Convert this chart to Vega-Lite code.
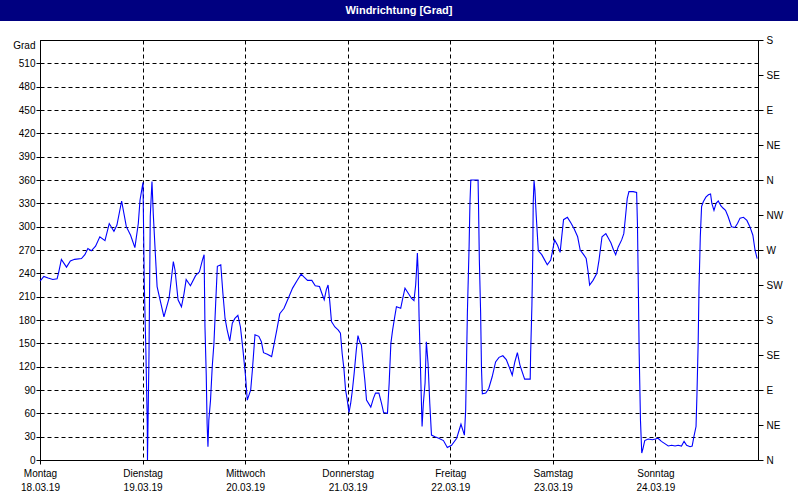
{
  "$schema": "https://vega.github.io/schema/vega-lite/v6.json",
  "padding": 0,
  "background": "white",
  "spacing": 19,
  "bounds": "flush",
  "center": true,
  "config": {
    "font": "Liberation Sans",
    "view": {"stroke": "black", "strokeWidth": 1},
    "axis": {
      "labelFont": "Liberation Sans",
      "labelFontSize": 10,
      "labelColor": "black",
      "tickColor": "black",
      "domainColor": "black",
      "gridColor": "black",
      "gridOpacity": 1,
      "gridDash": [4, 3],
      "gridWidth": 1,
      "labelFlush": false,
      "labelOverlap": false,
      "labelBound": false
    }
  },
  "datasets": {
    "wind": [
      {"stunde": 0, "grad": 230}, {"stunde": 0.9, "grad": 236}, {"stunde": 1.9, "grad": 234}, {"stunde": 3.0, "grad": 232},
      {"stunde": 4.0, "grad": 233}, {"stunde": 4.4, "grad": 242}, {"stunde": 5.0, "grad": 258}, {"stunde": 6.2, "grad": 248},
      {"stunde": 7.1, "grad": 256}, {"stunde": 8.1, "grad": 258}, {"stunde": 9.7, "grad": 259}, {"stunde": 10.5, "grad": 264},
      {"stunde": 11.2, "grad": 272}, {"stunde": 12.0, "grad": 269}, {"stunde": 13.0, "grad": 275}, {"stunde": 14.0, "grad": 287},
      {"stunde": 15.2, "grad": 282}, {"stunde": 16.2, "grad": 304}, {"stunde": 17.3, "grad": 294}, {"stunde": 18.0, "grad": 302},
      {"stunde": 19.1, "grad": 333}, {"stunde": 20.2, "grad": 300}, {"stunde": 21.2, "grad": 289}, {"stunde": 22.2, "grad": 273},
      {"stunde": 23.0, "grad": 304}, {"stunde": 23.4, "grad": 334}, {"stunde": 24.1, "grad": 357}, {"stunde": 24.4, "grad": 227},
      {"stunde": 24.8, "grad": 133}, {"stunde": 25.1, "grad": 45}, {"stunde": 25.15, "grad": 0}, {"stunde": 25.5, "grad": 135},
      {"stunde": 25.8, "grad": 313}, {"stunde": 26.2, "grad": 358}, {"stunde": 26.5, "grad": 317}, {"stunde": 27.0, "grad": 264},
      {"stunde": 27.4, "grad": 223}, {"stunde": 28.0, "grad": 208}, {"stunde": 29.0, "grad": 184}, {"stunde": 30.2, "grad": 208},
      {"stunde": 30.8, "grad": 236}, {"stunde": 31.2, "grad": 255}, {"stunde": 31.6, "grad": 244}, {"stunde": 32.3, "grad": 206},
      {"stunde": 33.1, "grad": 197}, {"stunde": 33.7, "grad": 214}, {"stunde": 34.2, "grad": 232}, {"stunde": 35.2, "grad": 224},
      {"stunde": 36.4, "grad": 237}, {"stunde": 37.3, "grad": 242}, {"stunde": 38.0, "grad": 257}, {"stunde": 38.4, "grad": 264},
      {"stunde": 38.6, "grad": 171}, {"stunde": 38.9, "grad": 109}, {"stunde": 39.1, "grad": 47}, {"stunde": 39.3, "grad": 17},
      {"stunde": 39.5, "grad": 51}, {"stunde": 39.9, "grad": 77}, {"stunde": 40.3, "grad": 120}, {"stunde": 40.7, "grad": 150},
      {"stunde": 41.1, "grad": 201}, {"stunde": 41.5, "grad": 249}, {"stunde": 42.3, "grad": 251}, {"stunde": 42.8, "grad": 214},
      {"stunde": 43.3, "grad": 182}, {"stunde": 43.8, "grad": 167}, {"stunde": 44.4, "grad": 153}, {"stunde": 45.0, "grad": 176},
      {"stunde": 45.6, "grad": 182}, {"stunde": 46.3, "grad": 186}, {"stunde": 46.9, "grad": 171}, {"stunde": 47.5, "grad": 141},
      {"stunde": 48.1, "grad": 107}, {"stunde": 48.5, "grad": 77}, {"stunde": 49.3, "grad": 90}, {"stunde": 49.7, "grad": 116},
      {"stunde": 50.3, "grad": 161}, {"stunde": 51.2, "grad": 159}, {"stunde": 51.8, "grad": 152}, {"stunde": 52.3, "grad": 138},
      {"stunde": 53.2, "grad": 136}, {"stunde": 54.2, "grad": 133}, {"stunde": 54.8, "grad": 150}, {"stunde": 55.4, "grad": 167},
      {"stunde": 56.1, "grad": 188}, {"stunde": 57.1, "grad": 195}, {"stunde": 58.1, "grad": 208}, {"stunde": 59.1, "grad": 221},
      {"stunde": 60.2, "grad": 231}, {"stunde": 61.1, "grad": 239}, {"stunde": 61.8, "grad": 235}, {"stunde": 62.6, "grad": 231},
      {"stunde": 63.6, "grad": 231}, {"stunde": 64.4, "grad": 224}, {"stunde": 65.4, "grad": 223}, {"stunde": 65.9, "grad": 215},
      {"stunde": 66.5, "grad": 206}, {"stunde": 67.0, "grad": 219}, {"stunde": 67.4, "grad": 225}, {"stunde": 67.8, "grad": 204},
      {"stunde": 68.2, "grad": 178}, {"stunde": 69.0, "grad": 171}, {"stunde": 69.8, "grad": 167}, {"stunde": 70.3, "grad": 163},
      {"stunde": 70.7, "grad": 137}, {"stunde": 71.1, "grad": 118}, {"stunde": 71.5, "grad": 90}, {"stunde": 71.9, "grad": 77},
      {"stunde": 72.3, "grad": 61}, {"stunde": 72.7, "grad": 73}, {"stunde": 73.1, "grad": 90}, {"stunde": 73.5, "grad": 111},
      {"stunde": 74.0, "grad": 141}, {"stunde": 74.4, "grad": 160}, {"stunde": 74.8, "grad": 152}, {"stunde": 75.2, "grad": 148},
      {"stunde": 75.6, "grad": 124}, {"stunde": 76.0, "grad": 103}, {"stunde": 76.4, "grad": 77}, {"stunde": 77.4, "grad": 68},
      {"stunde": 78.0, "grad": 79}, {"stunde": 78.5, "grad": 86}, {"stunde": 79.3, "grad": 86}, {"stunde": 79.9, "grad": 73},
      {"stunde": 80.4, "grad": 61}, {"stunde": 81.3, "grad": 60}, {"stunde": 81.7, "grad": 99}, {"stunde": 82.1, "grad": 150},
      {"stunde": 82.5, "grad": 167}, {"stunde": 83.0, "grad": 184}, {"stunde": 83.4, "grad": 197}, {"stunde": 84.4, "grad": 195},
      {"stunde": 84.8, "grad": 206}, {"stunde": 85.4, "grad": 221}, {"stunde": 86.2, "grad": 214}, {"stunde": 86.9, "grad": 208},
      {"stunde": 87.5, "grad": 205}, {"stunde": 87.9, "grad": 225}, {"stunde": 88.1, "grad": 244}, {"stunde": 88.3, "grad": 266},
      {"stunde": 88.5, "grad": 240}, {"stunde": 88.7, "grad": 184}, {"stunde": 89.0, "grad": 124}, {"stunde": 89.4, "grad": 43},
      {"stunde": 89.7, "grad": 73}, {"stunde": 90.1, "grad": 99}, {"stunde": 90.4, "grad": 152}, {"stunde": 90.8, "grad": 124},
      {"stunde": 91.2, "grad": 73}, {"stunde": 91.6, "grad": 32}, {"stunde": 92.4, "grad": 30}, {"stunde": 93.3, "grad": 28},
      {"stunde": 94.4, "grad": 25}, {"stunde": 95.3, "grad": 16}, {"stunde": 96.3, "grad": 19}, {"stunde": 97.5, "grad": 28},
      {"stunde": 98.5, "grad": 46}, {"stunde": 98.9, "grad": 39}, {"stunde": 99.3, "grad": 32}, {"stunde": 99.6, "grad": 64},
      {"stunde": 100.0, "grad": 189}, {"stunde": 100.4, "grad": 274}, {"stunde": 100.6, "grad": 330}, {"stunde": 100.8, "grad": 360},
      {"stunde": 102.5, "grad": 360}, {"stunde": 102.6, "grad": 330}, {"stunde": 102.8, "grad": 257}, {"stunde": 103.1, "grad": 189},
      {"stunde": 103.3, "grad": 118}, {"stunde": 103.5, "grad": 85}, {"stunde": 104.3, "grad": 86}, {"stunde": 105.0, "grad": 92},
      {"stunde": 105.8, "grad": 107}, {"stunde": 106.6, "grad": 126}, {"stunde": 107.4, "grad": 132}, {"stunde": 108.3, "grad": 134},
      {"stunde": 109.1, "grad": 129}, {"stunde": 109.9, "grad": 118}, {"stunde": 110.5, "grad": 109}, {"stunde": 111.1, "grad": 126},
      {"stunde": 111.7, "grad": 138}, {"stunde": 112.3, "grad": 122}, {"stunde": 113.4, "grad": 104}, {"stunde": 114.7, "grad": 104},
      {"stunde": 114.8, "grad": 137}, {"stunde": 115.1, "grad": 199}, {"stunde": 115.3, "grad": 264}, {"stunde": 115.4, "grad": 330},
      {"stunde": 115.6, "grad": 359}, {"stunde": 115.8, "grad": 347}, {"stunde": 116.1, "grad": 315}, {"stunde": 116.4, "grad": 287},
      {"stunde": 116.6, "grad": 269}, {"stunde": 117.4, "grad": 264}, {"stunde": 118.1, "grad": 257}, {"stunde": 118.7, "grad": 251},
      {"stunde": 119.5, "grad": 257}, {"stunde": 119.9, "grad": 268}, {"stunde": 120.4, "grad": 283}, {"stunde": 121.1, "grad": 276},
      {"stunde": 121.7, "grad": 267}, {"stunde": 122.0, "grad": 283}, {"stunde": 122.5, "grad": 309}, {"stunde": 123.4, "grad": 312},
      {"stunde": 124.2, "grad": 305}, {"stunde": 125.0, "grad": 297}, {"stunde": 125.8, "grad": 287}, {"stunde": 126.4, "grad": 270},
      {"stunde": 127.2, "grad": 264}, {"stunde": 127.8, "grad": 259}, {"stunde": 128.2, "grad": 244}, {"stunde": 128.6, "grad": 225},
      {"stunde": 129.4, "grad": 231}, {"stunde": 130.3, "grad": 240}, {"stunde": 130.8, "grad": 257}, {"stunde": 131.5, "grad": 287},
      {"stunde": 132.4, "grad": 291}, {"stunde": 133.0, "grad": 285}, {"stunde": 133.6, "grad": 279}, {"stunde": 134.2, "grad": 270},
      {"stunde": 134.7, "grad": 264}, {"stunde": 135.3, "grad": 274}, {"stunde": 136.1, "grad": 283}, {"stunde": 136.6, "grad": 291},
      {"stunde": 137.0, "grad": 313}, {"stunde": 137.4, "grad": 336}, {"stunde": 137.8, "grad": 345}, {"stunde": 138.8, "grad": 345},
      {"stunde": 139.6, "grad": 344}, {"stunde": 139.8, "grad": 302}, {"stunde": 140.0, "grad": 221}, {"stunde": 140.2, "grad": 137},
      {"stunde": 140.5, "grad": 51}, {"stunde": 140.8, "grad": 9}, {"stunde": 141.1, "grad": 15}, {"stunde": 141.5, "grad": 25},
      {"stunde": 142.3, "grad": 27}, {"stunde": 143.3, "grad": 26}, {"stunde": 144.0, "grad": 27}, {"stunde": 144.6, "grad": 28},
      {"stunde": 145.4, "grad": 24}, {"stunde": 146.2, "grad": 21}, {"stunde": 147.0, "grad": 18}, {"stunde": 147.8, "grad": 19},
      {"stunde": 148.6, "grad": 18}, {"stunde": 149.3, "grad": 19}, {"stunde": 150.1, "grad": 18}, {"stunde": 150.7, "grad": 24},
      {"stunde": 151.3, "grad": 19}, {"stunde": 152.1, "grad": 17}, {"stunde": 152.6, "grad": 18}, {"stunde": 153.0, "grad": 30},
      {"stunde": 153.5, "grad": 43}, {"stunde": 153.7, "grad": 81}, {"stunde": 154.0, "grad": 150}, {"stunde": 154.2, "grad": 221},
      {"stunde": 154.5, "grad": 287}, {"stunde": 154.8, "grad": 326}, {"stunde": 155.2, "grad": 332}, {"stunde": 155.8, "grad": 338},
      {"stunde": 156.4, "grad": 341}, {"stunde": 156.9, "grad": 342}, {"stunde": 157.2, "grad": 330}, {"stunde": 157.7, "grad": 321},
      {"stunde": 158.2, "grad": 330}, {"stunde": 158.7, "grad": 333}, {"stunde": 159.3, "grad": 327}, {"stunde": 159.8, "grad": 324},
      {"stunde": 160.4, "grad": 321}, {"stunde": 161.0, "grad": 313}, {"stunde": 161.8, "grad": 300}, {"stunde": 162.6, "grad": 299},
      {"stunde": 163.2, "grad": 304}, {"stunde": 163.8, "grad": 311}, {"stunde": 164.6, "grad": 312}, {"stunde": 165.4, "grad": 308},
      {"stunde": 166.1, "grad": 300}, {"stunde": 166.8, "grad": 289}, {"stunde": 167.3, "grad": 270}, {"stunde": 167.8, "grad": 259}
    ]
  },
  "vconcat": [
    {
      "width": 798,
      "height": 21,
      "view": {"fill": "#000080", "stroke": null},
      "data": {"values": [{}]},
      "mark": {"type": "text", "text": "Windrichtung [Grad]", "color": "white", "font": "Liberation Sans", "fontWeight": "bold", "fontSize": 11, "align": "center", "baseline": "middle"},
      "encoding": {}
    },
    {
      "width": 718,
      "height": 420,
      "view": {"stroke": "black", "strokeWidth": 1, "fill": "white"},
      "data": {"name": "wind"},
      "encoding": {
        "x": {
          "field": "stunde",
          "type": "quantitative",
          "scale": {"domain": [0, 168], "nice": false, "zero": false},
          "axis": {
            "title": null,
            "values": [0, 24, 48, 72, 96, 120, 144],
            "grid": true,
            "tickSize": 4,
            "labelPadding": 4,
            "labelBaseline": "top",
            "labelLineHeight": 14,
            "labelExpr": "[['Montag','Dienstag','Mittwoch','Donnerstag','Freitag','Samstag','Sonntag'][round(datum.value/24)], ['18.03.19','19.03.19','20.03.19','21.03.19','22.03.19','23.03.19','24.03.19'][round(datum.value/24)]]"
          }
        }
      },
      "layer": [
        {
          "mark": {"type": "line", "color": "#0000ff", "strokeWidth": 1.1, "interpolate": "linear"},
          "encoding": {
            "y": {
              "field": "grad",
              "type": "quantitative",
              "scale": {"domain": [0, 540], "nice": false, "zero": true},
              "axis": {
                "title": null,
                "orient": "left",
                "values": [0, 30, 60, 90, 120, 150, 180, 210, 240, 270, 300, 330, 360, 390, 420, 450, 480, 510, 540],
                "grid": true,
                "tickSize": 4,
                "labelPadding": 1,
                "tickOpacity": {"condition": {"test": "datum.value == 540", "value": 0}, "value": 1},
                "labelBaseline": {"condition": {"test": "datum.value == 540", "value": "top"}, "value": "middle"},
                "labelExpr": "datum.value == 540 ? 'Grad' : datum.label"
              }
            }
          }
        },
        {
          "mark": {"type": "line", "strokeOpacity": 0},
          "encoding": {
            "y": {
              "field": "grad",
              "type": "quantitative",
              "scale": {"domain": [0, 540], "nice": false, "zero": true},
              "axis": {
                "title": null,
                "orient": "right",
                "values": [0, 45, 90, 135, 180, 225, 270, 315, 360, 405, 450, 495, 540],
                "grid": false,
                "tickSize": 5,
                "labelPadding": 3,
                "labelExpr": "['N','NE','E','SE','S','SW','W','NW','N','NE','E','SE','S'][round(datum.value/45)]"
              }
            }
          }
        }
      ],
      "resolve": {"axis": {"y": "independent"}}
    }
  ]
}
